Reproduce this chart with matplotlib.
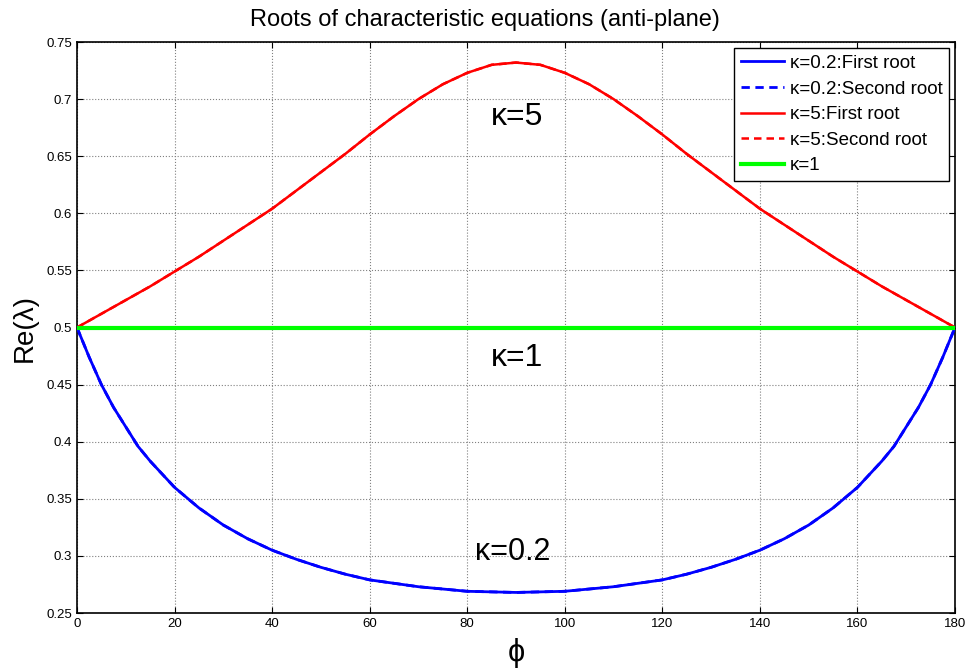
import numpy as np
import matplotlib
matplotlib.use("Agg")
import matplotlib.pyplot as plt

# Re(lambda) read along phi (degrees)
phi_red = [0, 5, 10, 15, 20, 25, 30, 35, 40, 45, 50, 55, 60, 65, 70, 75, 80, 85, 90,
           95, 100, 105, 110, 115, 120, 125, 130, 135, 140, 145, 150, 155, 160, 165, 170, 175, 180]
re_k5 = [0.500, 0.512, 0.524, 0.536, 0.549, 0.562, 0.576, 0.590, 0.604, 0.620, 0.636,
         0.652, 0.669, 0.685, 0.700, 0.713, 0.723, 0.730, 0.732,
         0.730, 0.723, 0.713, 0.700, 0.685, 0.669, 0.652, 0.636, 0.620, 0.604,
         0.590, 0.576, 0.562, 0.549, 0.536, 0.524, 0.512, 0.500]

phi_blue = [0, 2.5, 5, 7.5, 10, 12.5, 15, 20, 25, 30, 35, 40, 45, 50, 55, 60, 65, 70, 75, 80, 85, 90,
            95, 100, 105, 110, 115, 120, 125, 130, 135, 140, 145, 150, 155, 160, 165, 167.5,
            170, 172.5, 175, 177.5, 180]
re_k02 = [0.500, 0.474, 0.450, 0.430, 0.413, 0.396, 0.383, 0.360, 0.342, 0.327, 0.315,
          0.305, 0.297, 0.290, 0.284, 0.279, 0.276, 0.273, 0.271, 0.269, 0.2685, 0.268,
          0.2685, 0.269, 0.271, 0.273, 0.276, 0.279, 0.284, 0.290, 0.297, 0.305, 0.315,
          0.327, 0.342, 0.360, 0.383, 0.396, 0.413, 0.430, 0.450, 0.474, 0.500]

phi_green = [0, 180]
re_k1 = [0.5, 0.5]

plt.rcParams['font.family'] = ['Liberation Sans', 'DejaVu Sans']

fig = plt.figure(figsize=(9.68, 6.69), dpi=100)
ax = fig.add_axes([77/968, 1 - 613/669, (955 - 77)/968, (613 - 42)/669])

# second roots coincide with the first ones, so they sit underneath
ax.plot(phi_blue, re_k02, color='#0000ff', lw=2, ls='--', dashes=(3, 2), label='κ=0.2:Second root', zorder=2)
ax.plot(phi_red, re_k5, color='#ff0000', lw=1.8, ls='--', dashes=(3, 2), label='κ=5:Second root', zorder=2)
ax.plot(phi_blue, re_k02, color='#0000ff', lw=2, label='κ=0.2:First root', zorder=3)
ax.plot(phi_red, re_k5, color='#ff0000', lw=1.8, label='κ=5:First root', zorder=3)
ax.plot(phi_green, re_k1, color='#00ff00', lw=3, label='κ=1', zorder=4)

ax.set_xlim(0, 180)
ax.set_ylim(0.25, 0.75)
ax.set_xticks(np.arange(0, 181, 20))
ax.set_yticks(np.arange(0.25, 0.751, 0.05))
ax.set_yticklabels(['0.25', '0.3', '0.35', '0.4', '0.45', '0.5', '0.55', '0.6', '0.65', '0.7', '0.75'])
ax.tick_params(direction='in', top=True, right=True, labelsize=9.5, length=4, width=0.8)
ax.grid(True, color='#808080', ls=':', lw=0.8)
for s in ax.spines.values():
    s.set_linewidth(1.2)

fig.text(485/968, 1 - 20/669, 'Roots of characteristic equations (anti-plane)',
         ha='center', va='center', fontsize=17)
ax.set_xlabel('ϕ', fontsize=22, labelpad=6)
ax.set_ylabel('Re(λ)', fontsize=20, labelpad=6)

ax.text(84.9, 0.684, 'κ=5', fontsize=23, va='center')
ax.text(84.9, 0.473, 'κ=1', fontsize=23, va='center')
ax.text(81.6, 0.303, 'κ=0.2', fontsize=22, va='center')

h, l = ax.get_legend_handles_labels()
order = [2, 0, 3, 1, 4]
leg = ax.legend([h[i] for i in order], [l[i] for i in order], loc='upper right',
                bbox_to_anchor=(0.993, 0.989), fontsize=13.5, fancybox=False,
                framealpha=1, edgecolor='black', handlelength=2.3, handletextpad=0.3,
                labelspacing=0.45, borderpad=0.35, borderaxespad=0)
leg.get_frame().set_linewidth(1.0)

fig.savefig('out.png', dpi=100)
